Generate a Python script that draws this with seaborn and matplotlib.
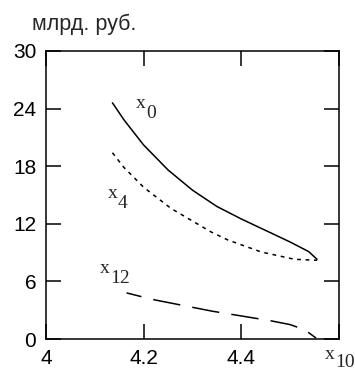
import pandas as pd
import matplotlib
matplotlib.use('Agg')
import matplotlib.pyplot as plt
import seaborn as sns

# Curve data
x0_x = [4.136, 4.16, 4.2, 4.25, 4.3, 4.35, 4.4, 4.45, 4.5, 4.538, 4.555]
x0_y = [24.6, 22.8, 20.2, 17.6, 15.5, 13.8, 12.5, 11.3, 10.1, 9.1, 8.3]

x4_x = [4.136, 4.159, 4.2, 4.256, 4.338, 4.373, 4.441, 4.509, 4.555]
x4_y = [19.4, 17.9, 15.8, 13.6, 11.15, 10.3, 9.06, 8.3, 8.2]

x12_x = [4.165, 4.22, 4.28, 4.34, 4.40, 4.46, 4.50, 4.53, 4.553]
x12_y = [4.8, 4.1, 3.5, 2.9, 2.4, 1.9, 1.5, 0.95, 0.1]

x_ticks = [4, 4.2, 4.4, 4.6]
x_tick_labels = ['4', '4.2', '4.4', '']
y_ticks = [0, 6, 12, 18, 24, 30]

sns.set_style('ticks')
plt.rcParams['font.family'] = ['Liberation Sans', 'DejaVu Sans']

fig = plt.figure(figsize=(3.55, 3.72), dpi=100)
ax = fig.add_axes([0.1296, 0.0887, 0.8254, 0.7743])

sns.lineplot(x=x0_x, y=x0_y, ax=ax, color='black', linewidth=1.1)
sns.lineplot(x=x4_x, y=x4_y, ax=ax, color='black', linewidth=1.1,
             linestyle=(0, (2.5, 3)))
sns.lineplot(x=x12_x, y=x12_y, ax=ax, color='black', linewidth=1.1,
             linestyle=(8, (18, 8)))

ax.set_xlim(4, 4.6)
ax.set_ylim(0, 30)
ax.set_xticks(x_ticks)
ax.set_xticklabels(x_tick_labels)
ax.set_yticks(y_ticks)
ax.tick_params(direction='in', length=10.5, width=1.1, top=True, right=True,
               labelsize=15, colors='black', pad=7)
for s in ax.spines.values():
    s.set_linewidth(1.1)
    s.set_color('black')


# subscripted labels: "x" and its index at same size, index lowered
def sub_label(x, y, sub, coords='data', drop=4.5):
    t = ax.annotate('x', (x, y), xycoords=coords, fontsize=14,
                    family='Liberation Serif', ha='left', va='baseline',
                    annotation_clip=False)
    ax.annotate(sub, xy=(1, 0), xycoords=t, xytext=(0.5, -drop),
                textcoords='offset points', fontsize=14,
                family='Liberation Serif', ha='left', va='baseline',
                annotation_clip=False)


sub_label(4.1835, 24.06, '0')
sub_label(4.126, 14.7, '4')
sub_label(4.111, 6.9, '12')
sub_label(0.952, -0.068, '10', coords='axes fraction', drop=3.5)

fig.text(32 / 355, 1 - 30 / 372, 'млрд. руб.', fontsize=15.5, ha='left',
         va='baseline')

fig.savefig('out.png', dpi=100)
